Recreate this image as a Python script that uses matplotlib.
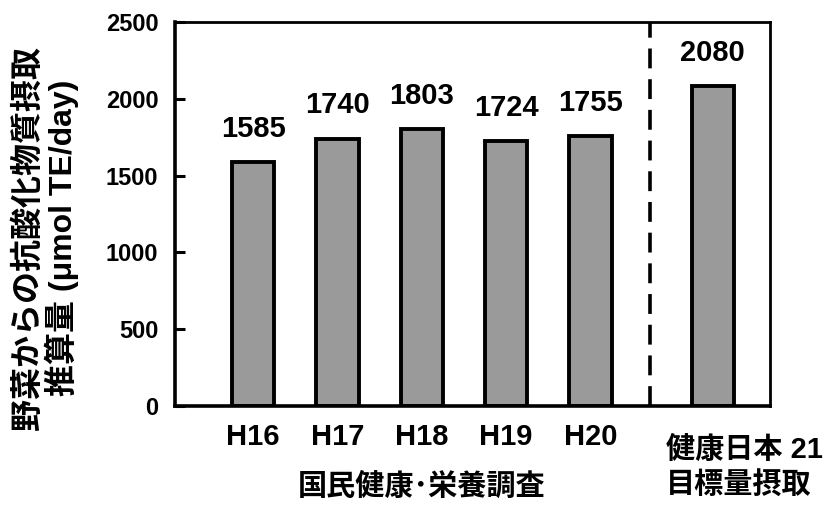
import numpy as np
import matplotlib
matplotlib.use('Agg')
import matplotlib.pyplot as plt

# Data
years = ['H16', 'H17', 'H18', 'H19', 'H20']
intake = [1585, 1740, 1803, 1724, 1755]
target_label = '健康日本 21\n目標量摂取'
target_value = 2080
survey_label = '国民健康･栄養調査'
ylabel = '野菜からの抗酸化物質摂取\n推算量 (μmol TE/day)'
yticks = [0, 500, 1000, 1500, 2000, 2500]

plt.rcParams['font.family'] = ['Liberation Sans', 'Noto Sans CJK JP']
plt.rcParams['font.weight'] = 'bold'

fig = plt.figure(figsize=(8.38, 5.07), dpi=100)
ax = fig.add_axes([0.209, 0.199, 0.710, 0.758])

x = np.arange(len(years))
x_target = len(years) + 0.45
x_split = len(years) - 0.3

bar_style = dict(width=0.5, color='#9a9a9a', edgecolor='black', linewidth=2.8, zorder=2)
ax.bar(x, intake, **bar_style)
ax.bar([x_target], [target_value], **bar_style)

# value labels
for xi, v in zip(list(x) + [x_target], intake + [target_value]):
    ax.annotate(str(v), (xi, v), xytext=(0, 14), textcoords='offset points',
                ha='center', va='bottom', fontsize=21, fontweight='bold')

# dashed separator
ax.axvline(x_split, color='black', linewidth=2.6, linestyle=(0, (5.5, 3)), zorder=1)

ax.set_xlim(-0.925, 6.13)
ax.set_ylim(0, 2500)
ax.set_yticks(yticks)
ax.set_yticklabels([str(t) for t in yticks], fontsize=17, fontweight='bold')
ax.set_xticks(x)
ax.set_xticklabels(years, fontsize=21, fontweight='bold')
ax.tick_params(axis='y', direction='in', length=7, width=2.2, pad=12)
ax.tick_params(axis='x', length=0, pad=12)

for side in ['left', 'bottom']:
    ax.spines[side].set_linewidth(2.6)
for side in ['top', 'right']:
    ax.spines[side].set_linewidth(2.0)

ax.text(2, -0.21, survey_label, transform=ax.get_xaxis_transform(),
        ha='center', va='center', fontsize=21, fontweight='bold')
ax.text(x_target - 0.55, -0.16, target_label, transform=ax.get_xaxis_transform(),
        ha='left', va='center', fontsize=21, fontweight='bold', linespacing=1.35)

fig.text(0.055, 0.53, ylabel, rotation=90, ha='center', va='center',
         fontsize=23, fontweight='bold', linespacing=1.05)

plt.savefig('out.png', dpi=100)
